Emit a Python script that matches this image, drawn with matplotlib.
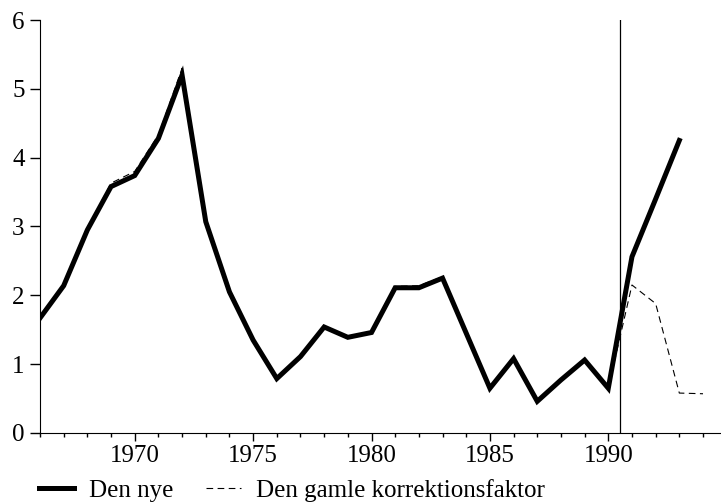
import numpy as np
import matplotlib.pyplot as plt
from matplotlib.ticker import MultipleLocator

# font like the original (Times style)
plt.rcParams['font.family'] = ['Liberation Serif', 'DejaVu Serif']
plt.rcParams['font.size'] = 18

# data
years_new = list(range(1966, 1994))
den_nye = [1.67, 2.14, 2.95, 3.58, 3.74, 4.28, 5.20, 3.07, 2.05, 1.35,
           0.79, 1.11, 1.54, 1.39, 1.46, 2.11, 2.11, 2.25, 1.45, 0.65,
           1.08, 0.46, 0.77, 1.06, 0.65, 2.56, 3.40, 4.25]

years_old = list(range(1966, 1995))
den_gamle = [1.67, 2.14, 2.97, 3.63, 3.80, 4.33, 5.30, 3.07, 2.05, 1.35,
             0.79, 1.11, 1.54, 1.39, 1.46, 2.13, 2.14, 2.27, 1.45, 0.65,
             1.08, 0.46, 0.77, 1.06, 0.65, 2.15, 1.88, 0.58, 0.57]

split_year = 1990.5

fig = plt.figure(figsize=(7.21, 5.04), dpi=100)
ax = fig.add_axes([0.0555, 0.1409, 0.9445, 0.8194])

ax.plot(years_old, den_gamle, color='black', lw=0.8, ls=(0, (6, 4)), label='Den gamle korrektionsfaktor')
ax.plot(years_new, den_nye, color='black', lw=3.6, solid_joinstyle='miter', label='Den nye')
ax.axvline(split_year, color='black', lw=0.9)

ax.set_xlim(1966, 1994.76)
ax.set_ylim(0, 6)
ax.xaxis.set_major_locator(MultipleLocator(5))
ax.xaxis.set_minor_locator(MultipleLocator(1))
ax.yaxis.set_major_locator(MultipleLocator(1))

ax.spines['top'].set_visible(False)
ax.spines['right'].set_visible(False)
ax.tick_params(axis='x', which='major', length=6, width=1, pad=3)
ax.tick_params(axis='x', which='minor', length=3, width=1)
ax.tick_params(axis='y', which='major', length=7, width=1, pad=4)

# legend below the plot, no frame
h, l = ax.get_legend_handles_labels()
fig.legend([h[1], h[0]], [l[1], l[0]], loc='center left', bbox_to_anchor=(0.04, 0.027),
           ncol=2, frameon=False, handlelength=1.4, handletextpad=0.6,
           columnspacing=1.3, borderaxespad=0)

plt.savefig('out.png', dpi=100)
